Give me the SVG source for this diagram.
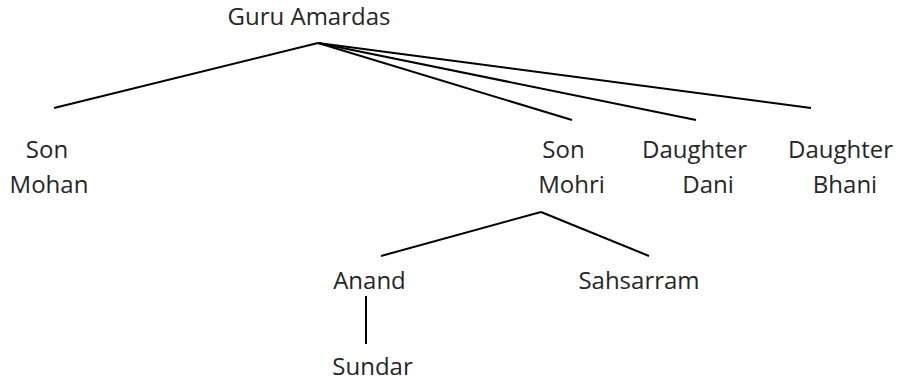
<svg xmlns="http://www.w3.org/2000/svg" width="902" height="381" viewBox="0 0 902 381">
<style>
text{font-family:"Open Sans","Liberation Sans",sans-serif;font-size:24px;fill:#262626;text-anchor:middle}
.c line{stroke:#000;stroke-width:2;stroke-linecap:butt}
</style>
<rect width="902" height="381" fill="#fff"/>
<g class="c" id="connectors">
<line x1="318" y1="43" x2="54" y2="108"/>
<line x1="318" y1="43" x2="572" y2="120"/>
<line x1="318" y1="43" x2="696" y2="120"/>
<line x1="318" y1="43" x2="811" y2="108"/>
<line x1="541" y1="212" x2="381" y2="256"/>
<line x1="541" y1="212" x2="649" y2="256"/>
<line x1="366" y1="296" x2="366" y2="344"/>
</g>
<g id="guru"><text x="309" y="25">Guru Amardas</text></g>
<g id="mohan"><text x="47" y="158">Son</text><text x="49" y="193">Mohan</text></g>
<g id="mohri"><text x="563.5" y="158">Son</text><text x="571.5" y="193">Mohri</text></g>
<g id="dani"><text x="694.5" y="158">Daughter</text><text x="708" y="193">Dani</text></g>
<g id="bhani"><text x="840.5" y="158">Daughter</text><text x="845" y="193">Bhani</text></g>
<g id="anand"><text x="369.5" y="289">Anand</text></g>
<g id="sahsarram"><text x="639" y="289">Sahsarram</text></g>
<g id="sundar"><text x="372.5" y="375">Sundar</text></g>
</svg>
